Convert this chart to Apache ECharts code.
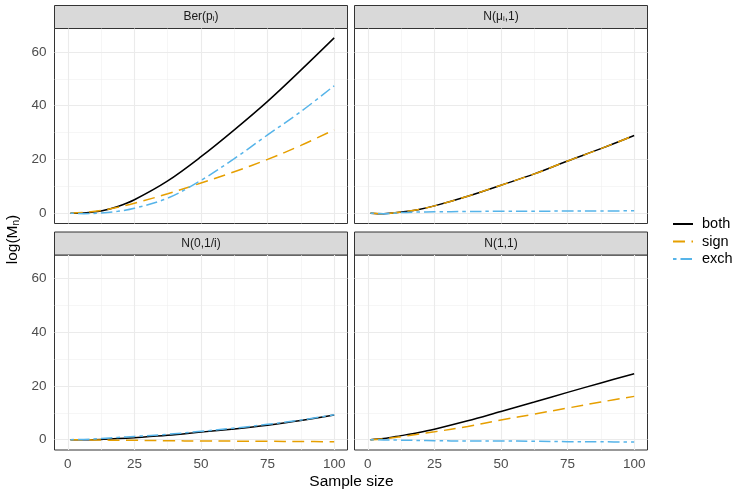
<!DOCTYPE html>
<html>
<head>
<meta charset="utf-8">
<script src="https://cdn.jsdelivr.net/npm/echarts@6/dist/echarts.min.js"></script>
<style>
  html, body { margin: 0; padding: 0; background: #fff; }
  #chart { width: 733px; height: 493px; }
</style>
</head>
<body>
<div id="chart"></div>
<script>
const sampleSize = [1, 6, 12.5, 18.75, 25, 37.5, 50, 62.5, 75, 87.5, 100];

// facet titles ({s|..} = subscript)
const panelTitles = ['Ber(p{s|i})', 'N(μ{s|i},1)', 'N(0,1/i)', 'N(1,1)'];
const seriesNames = ['both', 'sign', 'exch'];

// Ber(p_i)
const berBoth = [0, 0.1, 0.8, 2.5, 5.0, 12.0, 21.0, 31.0, 41.6, 53.2, 65.2];
const berSign = [0, 0.25, 1.0, 2.2, 3.7, 7.2, 11.2, 15.4, 20.0, 25.2, 31.0];
const berExch = [0, -0.2, 0.1, 0.7, 1.8, 5.6, 12.2, 20.3, 29.1, 37.8, 47.4];
// N(mu_i,1)
const normMuBoth = [0, -0.2, 0.4, 1.3, 2.7, 6.3, 10.4, 14.6, 19.4, 24.0, 28.9];
const normMuSign = [0, -0.2, 0.4, 1.3, 2.7, 6.3, 10.4, 14.6, 19.4, 24.0, 28.9];
const normMuExch = [0, -0.2, 0.2, 0.4, 0.5, 0.6, 0.7, 0.7, 0.8, 0.8, 0.9];
// N(0,1/i)
const normVarBoth = [0, 0, 0.1, 0.4, 0.75, 1.6, 2.8, 4.0, 5.4, 7.1, 9.2];
const normVarSign = [0, -0.05, -0.15, -0.2, -0.25, -0.4, -0.5, -0.55, -0.6, -0.7, -0.75];
const normVarExch = [0, 0.1, 0.4, 0.8, 1.2, 2.0, 3.1, 4.3, 5.7, 7.3, 9.3];
// N(1,1)
const normOneBoth = [0, 0.4, 1.5, 2.6, 3.9, 7.0, 10.5, 14.0, 17.6, 21.1, 24.5];
const normOneSign = [0, 0.3, 1.1, 2.0, 2.9, 4.9, 7.3, 9.5, 11.75, 14.0, 16.1];
const normOneExch = [0, -0.1, -0.2, -0.3, -0.4, -0.5, -0.5, -0.6, -0.75, -0.8, -0.9];

const panelValues = [
  [berBoth, berSign, berExch],
  [normMuBoth, normMuSign, normMuExch],
  [normVarBoth, normVarSign, normVarExch],
  [normOneBoth, normOneSign, normOneExch]
];

// axis breaks
const xMajor = [0, 25, 50, 75, 100];
const xMinor = [12.5, 37.5, 62.5, 87.5];
const yMajor = [0, 20, 40, 60];
const yMinor = [10, 30, 50];

const FONT = '"Liberation Sans", Arial, sans-serif';
const colors = ['#000000', '#E69F00', '#56B4E9'];
const dashes = ['solid', [12, 6.5], [3.5, 4, 11.5, 4]];

const boxes = [
  { left: 54.5, top: 28.5 },
  { left: 354.5, top: 28.5 },
  { left: 54.5, top: 255 },
  { left: 354.5, top: 255 }
];
const boxW = 293;
const boxH = 195;
const stripH = 23;

const grid = [];
const xAxis = [];
const yAxis = [];
const series = [];
const graphic = [];

const majorLine = { color: '#ebebeb', width: 1.1, type: 'solid' };
const minorLine = { color: '#f0f0f0', width: 0.6, type: 'solid' };

boxes.forEach((b, i) => {
  const isBottom = i >= 2;
  const isLeft = i % 2 === 0;
  grid.push({
    left: b.left, top: b.top, width: boxW, height: boxH,
    show: true, backgroundColor: '#fff', borderColor: '#333333', borderWidth: 1
  });
  xAxis.push({
    type: 'value', gridIndex: i, min: -5, max: 105,
    axisLine: { show: false },
    splitLine: { show: false },
    axisTick: { show: isBottom, length: 4, customValues: xMajor, lineStyle: { color: '#333333', width: 1 } },
    axisLabel: { show: isBottom, customValues: xMajor, margin: 7, color: '#4d4d4d', fontSize: 13.5, fontFamily: FONT }
  });
  yAxis.push({
    type: 'value', gridIndex: i, min: -3.85, max: 68.7,
    axisLine: { show: false },
    splitLine: { show: false },
    axisTick: { show: isLeft, length: 4, customValues: yMajor, lineStyle: { color: '#333333', width: 1 } },
    axisLabel: { show: isLeft, customValues: yMajor, margin: 8, color: '#4d4d4d', fontSize: 13.5, fontFamily: FONT }
  });

  seriesNames.forEach((name, k) => {
    const vals = panelValues[i][k];
    const s = {
      name: name,
      type: 'line',
      xAxisIndex: i,
      yAxisIndex: i,
      data: sampleSize.map((x, j) => [x, vals[j]]),
      showSymbol: false,
      symbol: 'none',
      smooth: 0.35,
      z: 3 + k,
      color: colors[k],
      lineStyle: { color: colors[k], width: 1.5, type: dashes[k], cap: 'butt' },
      emphasis: { disabled: true },
      animation: false
    };
    if (k === 0) {
      s.markLine = {
        silent: true, symbol: 'none', z: 1, animation: false,
        label: { show: false },
        emphasis: { disabled: true },
        data: []
          .concat(xMinor.map(v => ({ xAxis: v, lineStyle: minorLine })))
          .concat(yMinor.map(v => ({ yAxis: v, lineStyle: minorLine })))
          .concat(xMajor.map(v => ({ xAxis: v, lineStyle: majorLine })))
          .concat(yMajor.map(v => ({ yAxis: v, lineStyle: majorLine })))
      };
    }
    series.push(s);
  });

  // strip on top of each panel
  graphic.push({
    type: 'group',
    children: [
      {
        type: 'rect',
        shape: { x: b.left, y: b.top - stripH, width: boxW, height: stripH },
        style: { fill: '#d9d9d9', stroke: '#333333', lineWidth: 1 }
      },
      {
        type: 'text',
        x: b.left + boxW / 2,
        y: b.top - stripH / 2,
        style: {
          text: panelTitles[i],
          fill: '#1a1a1a',
          font: '12px ' + FONT,
          align: 'center',
          verticalAlign: 'middle',
          rich: { s: { fontSize: 8, fontFamily: FONT, fill: '#1a1a1a', verticalAlign: 'bottom', lineHeight: 9 } }
        }
      }
    ]
  });
});

// axis titles
graphic.push({
  type: 'text', x: 351.5, y: 482,
  style: { text: 'Sample size', fill: '#000', font: '15.5px ' + FONT, align: 'center', verticalAlign: 'middle' }
});
graphic.push({
  type: 'text', x: 13, y: 239.5, rotation: Math.PI / 2,
  style: {
    text: 'log(M{s|n})', fill: '#000', font: '15.5px ' + FONT, align: 'center', verticalAlign: 'middle',
    rich: { s: { fontSize: 10, fontFamily: FONT, fill: '#000', verticalAlign: 'bottom', lineHeight: 11 } }
  }
});

const chart = echarts.init(document.getElementById('chart'), null, { renderer: 'canvas' });
chart.setOption({
  animation: false,
  backgroundColor: '#fff',
  grid: grid,
  xAxis: xAxis,
  yAxis: yAxis,
  legend: {
    data: seriesNames,
    orient: 'vertical',
    left: 672,
    top: 216.5,
    padding: 0,
    itemWidth: 20,
    itemHeight: 14,
    itemGap: 2.5,
    selectedMode: false,
    itemStyle: { opacity: 0 },
    textStyle: { fontSize: 14.5, lineHeight: 14, fontFamily: FONT, color: '#000', padding: [0, 0, 0, 4] }
  },
  series: series,
  graphic: graphic
});
</script>
</body>
</html>
